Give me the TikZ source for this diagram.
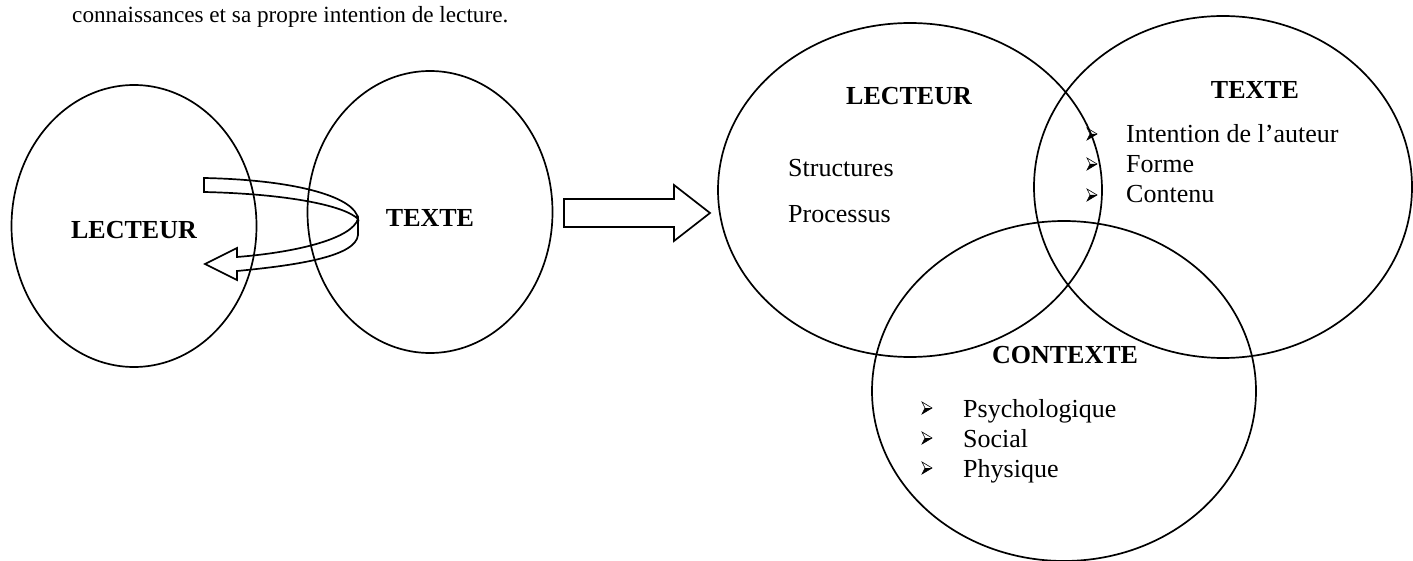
\documentclass[tikz,border=0pt]{standalone}
\usepackage{fontspec}
\setmainfont{Liberation Serif}
\usetikzlibrary{shapes.geometric}
\begin{document}
\begin{tikzpicture}[x=1pt,y=-1pt,
  ring/.style={draw, line width=1.7pt, ellipse, inner sep=0pt},
  lbl/.style={font=\fontsize{26}{30}\selectfont\bfseries, inner sep=0pt, anchor=base},
  item/.style={font=\fontsize{26}{30}\selectfont, inner sep=0pt, anchor=base west},
  outline/.style={draw, line width=1.7pt, line join=miter},
  pointer/.pic={
    \draw[line width=0.6pt, line join=miter] (-5,-6) -- (5,0) -- (-5,6) -- (-2,0) -- cycle;
    \fill (-2,0) -- (5,0) -- (-5,6) -- cycle;
  }
]
\useasboundingbox (0,0) rectangle (1413,561);

% closing line of the paragraph above the figure
\node[item, font=\fontsize{23.2}{27}\selectfont] (intro) at (72,23) {connaissances et sa propre intention de lecture.};

% left: reader and text with the loop between them
\node[ring, minimum width=245pt, minimum height=282pt] (lc) at (134,226) {};
\node[ring, minimum width=245pt, minimum height=282pt] (tc) at (430,212) {};
\node[lbl] (lcl) at (134,239) {LECTEUR};
\node[lbl] (tcl) at (430,227) {TEXTE};

% ribbon loop, upper strand
\draw[outline] (204,192) -- (204,178) .. controls (300,180) and (356,198) .. (358,219)
  .. controls (345,206) and (290,194) .. (204,192) -- cycle;
% ribbon loop, lower strand ending in the head
\draw[outline] (358,219) -- (358,235) .. controls (356,256) and (300,265) .. (237,271)
  -- (237,280) -- (205,264) -- (237,248) -- (237,257)
  .. controls (300,252) and (352,238) .. (358,219) -- cycle;

% block arrow towards the three-part model
\draw[outline] (564,199) -- (674,199) -- (674,185) -- (710,213) -- (674,241)
  -- (674,227) -- (564,227) -- cycle;

% right: reader, text and context
\node[ring, minimum width=384pt, minimum height=334pt] (lb) at (910,190) {};
\node[ring, minimum width=378pt, minimum height=342pt] (tb) at (1223,187) {};
\node[ring, minimum width=384pt, minimum height=340pt] (cb) at (1064,391) {};

\node[lbl] (lbt) at (909,105) {LECTEUR};
\node[item] (s1) at (788,177) {Structures};
\node[item] (s2) at (788,223) {Processus};

\node[lbl] (tbt) at (1255,99) {TEXTE};
\node[item] (t1) at (1126,143) {Intention de l’auteur};
\node[item] (t2) at (1126,173) {Forme};
\node[item] (t3) at (1126,203) {Contenu};
\pic at (1092,134) {pointer};
\pic at (1092,164) {pointer};
\pic at (1092,195) {pointer};

\node[lbl] (cbt) at (1065,363) {CONTEXTE};
\node[item] (c1) at (963,417) {Psychologique};
\node[item] (c2) at (963,447) {Social};
\node[item] (c3) at (963,477) {Physique};
\pic at (927,408) {pointer};
\pic at (927,438) {pointer};
\pic at (927,468) {pointer};
\end{tikzpicture}
\end{document}
